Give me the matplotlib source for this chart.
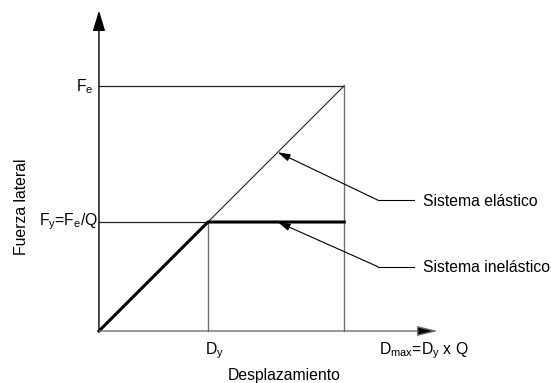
import matplotlib
matplotlib.use("Agg")
import matplotlib.pyplot as plt

plt.rcParams['font.family'] = ['Liberation Sans', 'DejaVu Sans']
plt.rcParams['mathtext.fontset'] = 'custom'
plt.rcParams['mathtext.rm'] = 'Liberation Sans'
plt.rcParams['mathtext.it'] = 'Liberation Sans'
plt.rcParams['mathtext.bf'] = 'Liberation Sans:bold'

# modelo elastoplastico (unidades relativas)
Dy = 1.0
Q = 2.25
Fy = 1.0
Fe = Fy * Q
Dmax = Dy * Q

# sistema elastico y sistema inelastico (bilineal)
elastico_x = [0, Dmax]
elastico_y = [0, Fe]
inelastico_x = [0, Dy, Dmax]
inelastico_y = [0, Fy, Fy]

# flechas de llamada: punta, quiebre, fin de la linea
llamadas = [
    ("Sistema elástico", (1.64, 1.64), (2.56, 1.20), 2.89),
    ("Sistema inelástico", (1.64, 1.0), (2.56, 0.59), 2.89),
]

fig = plt.figure(figsize=(5.51, 3.83), dpi=100)
ax = fig.add_axes([0, 0, 1, 1])
ax.set_xlim(-0.908, 4.147)
ax.set_ylim(-0.477, 3.037)
ax.axis('off')

fs = 11.3
gris = '#6e6e6e'

# ejes con flecha
ax.annotate('', xy=(0, 2.94), xytext=(0, 0),
            arrowprops=dict(arrowstyle='-|>,head_length=1.25,head_width=0.38',
                            lw=1.0, color='k', shrinkA=0, shrinkB=0))
ax.annotate('', xy=(3.11, 0), xytext=(0, 0),
            arrowprops=dict(arrowstyle='-|>,head_length=1.25,head_width=0.3',
                            lw=1.0, color=gris, fc='k', shrinkA=0, shrinkB=0))

# lineas de referencia
ax.plot([0, Dmax], [Fe, Fe], color='#222222', lw=0.9)
ax.plot([0, Dy], [Fy, Fy], color='#222222', lw=0.9)
ax.plot([Dy, Dy], [0, Fy], color=gris, lw=1.0)
ax.plot([Dmax, Dmax], [0, Fe], color=gris, lw=1.0)

ax.plot(elastico_x, elastico_y, color='#222222', lw=0.8)
ax.plot(inelastico_x, inelastico_y, color='k', lw=2.2, solid_joinstyle='miter')

for texto, punta, quiebre, fin in llamadas:
    ax.plot([quiebre[0], fin], [quiebre[1], quiebre[1]], color='k', lw=0.8)
    ax.annotate('', xy=punta, xytext=quiebre,
                arrowprops=dict(arrowstyle='-|>,head_length=0.75,head_width=0.22',
                                lw=0.8, color='k', shrinkA=0, shrinkB=0))
    ax.text(fin + 0.08, quiebre[1] - 0.05, texto, fontsize=fs,
            ha='left', va='baseline')

# etiquetas
ax.text(-0.05, Fe - 0.055, r'F$_{\mathrm{e}}$', fontsize=fs, ha='right', va='baseline')
ax.text(-0.01, Fy - 0.03, r'F$_{\mathrm{y}}$=F$_{\mathrm{e}}$/Q', fontsize=fs,
        ha='right', va='baseline')
ax.text(Dy - 0.03, -0.21, r'D$_{\mathrm{y}}$', fontsize=fs, ha='left', va='baseline')
ax.text(2.57, -0.21, r'D$_{\mathrm{max}}$=D$_{\mathrm{y}}$ x Q', fontsize=fs,
        ha='left', va='baseline')
ax.text(1.70, -0.45, 'Desplazamiento', fontsize=fs, ha='center', va='baseline')
ax.text(-0.64, 1.14, 'Fuerza lateral', fontsize=fs, rotation=90,
        ha='right', va='center')

fig.savefig('out.png', dpi=100)
